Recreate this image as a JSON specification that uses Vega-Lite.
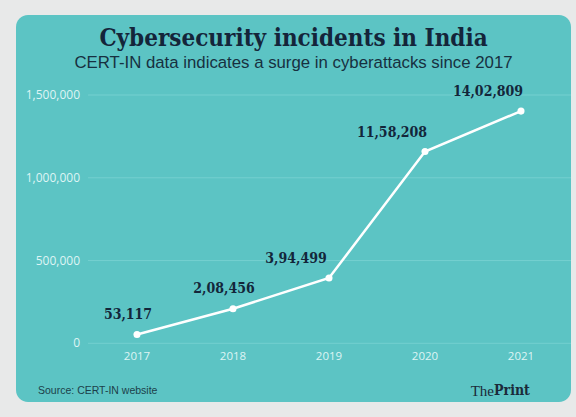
{
  "$schema": "https://vega.github.io/schema/vega-lite/v6.json",
  "width": 555,
  "height": 387,
  "autosize": {"type": "none"},
  "padding": {"left": 16, "top": 15, "right": 5, "bottom": 15},
  "background": "#e8e9e9",
  "config": {"view": {"fill": "#5cc4c4", "stroke": null, "cornerRadius": 12}},
  "title": {
    "text": "Cybersecurity incidents in India",
    "subtitle": "CERT-IN data indicates a surge in cyberattacks since 2017",
    "anchor": "middle",
    "frame": "group",
    "offset": -57,
    "font": "DejaVu Serif Condensed",
    "fontSize": 24,
    "fontWeight": "bold",
    "color": "#14253a",
    "subtitleFont": "Liberation Sans",
    "subtitleFontSize": 16.8,
    "subtitleColor": "#173040",
    "subtitlePadding": 4
  },
  "datasets": {
    "incidents": [
      {"year": 2017, "count": 53117, "label": "53,117", "group": "a"},
      {"year": 2018, "count": 208456, "label": "2,08,456", "group": "a"},
      {"year": 2019, "count": 394499, "label": "3,94,499", "group": "b"},
      {"year": 2020, "count": 1158208, "label": "11,58,208", "group": "b"},
      {"year": 2021, "count": 1402809, "label": "14,02,809", "group": "b"}
    ],
    "ticks": [{"v": 0}, {"v": 500000}, {"v": 1000000}, {"v": 1500000}],
    "footer": [{"source": "Source: CERT-IN website", "brand1": "The", "brand2": "Print"}]
  },
  "layer": [
    {
      "data": {"name": "ticks"},
      "mark": {"type": "rule", "color": "#74d0d0", "strokeWidth": 1},
      "encoding": {
        "y": {"field": "v", "type": "quantitative", "scale": {"domain": [-354600, 1983300], "nice": false, "zero": false}, "axis": null},
        "x": {"datum": 2016.49, "type": "quantitative", "scale": {"domain": [2015.7396, 2021.5208], "nice": false, "zero": false}, "axis": null},
        "x2": {"datum": 2021.5208}
      }
    },
    {
      "data": {"name": "ticks"},
      "mark": {"type": "text", "align": "right", "baseline": "middle", "font": "Open Sans", "fontSize": 12, "color": "#def4f4"},
      "encoding": {
        "y": {"field": "v", "type": "quantitative"},
        "x": {"datum": 2016.4063, "type": "quantitative"},
        "text": {"field": "v", "type": "quantitative", "format": ","}
      }
    },
    {
      "data": {"name": "incidents"},
      "mark": {"type": "text", "align": "center", "baseline": "middle", "font": "Open Sans", "fontSize": 11.5, "color": "#def4f4"},
      "encoding": {
        "x": {"field": "year", "type": "quantitative"},
        "y": {"datum": -82760, "type": "quantitative"},
        "text": {"field": "year", "type": "quantitative", "format": "d"}
      }
    },
    {
      "data": {"name": "incidents"},
      "mark": {"type": "line", "color": "#ffffff", "strokeWidth": 2.5},
      "encoding": {
        "x": {"field": "year", "type": "quantitative"},
        "y": {"field": "count", "type": "quantitative"}
      }
    },
    {
      "data": {"name": "incidents"},
      "mark": {"type": "point", "filled": true, "color": "#ffffff", "opacity": 1, "size": 50},
      "encoding": {
        "x": {"field": "year", "type": "quantitative"},
        "y": {"field": "count", "type": "quantitative"}
      }
    },
    {
      "data": {"name": "incidents"},
      "transform": [{"filter": "datum.group == 'a'"}],
      "mark": {"type": "text", "align": "center", "baseline": "middle", "dx": -9, "dy": -20, "font": "DejaVu Serif Condensed", "fontWeight": "bold", "fontSize": 14, "color": "#13263a"},
      "encoding": {
        "x": {"field": "year", "type": "quantitative"},
        "y": {"field": "count", "type": "quantitative"},
        "text": {"field": "label"}
      }
    },
    {
      "data": {"name": "incidents"},
      "transform": [{"filter": "datum.group == 'b'"}],
      "mark": {"type": "text", "align": "center", "baseline": "middle", "dx": -33, "dy": -19, "font": "DejaVu Serif Condensed", "fontWeight": "bold", "fontSize": 14, "color": "#13263a"},
      "encoding": {
        "x": {"field": "year", "type": "quantitative"},
        "y": {"field": "count", "type": "quantitative"},
        "text": {"field": "label"}
      }
    },
    {
      "data": {"name": "footer"},
      "mark": {"type": "text", "align": "left", "baseline": "middle", "font": "Liberation Sans", "fontSize": 10.5, "color": "#1c3f4a"},
      "encoding": {
        "x": {"datum": 2015.969, "type": "quantitative"},
        "y": {"datum": -288150, "type": "quantitative"},
        "text": {"field": "source"}
      }
    },
    {
      "data": {"name": "footer"},
      "mark": {"type": "text", "align": "right", "baseline": "middle", "font": "Liberation Serif", "fontSize": 15, "color": "#1b2b3a"},
      "encoding": {
        "x": {"datum": 2020.719, "type": "quantitative"},
        "y": {"datum": -288150, "type": "quantitative"},
        "text": {"field": "brand1"}
      }
    },
    {
      "data": {"name": "footer"},
      "mark": {"type": "text", "align": "left", "baseline": "middle", "font": "DejaVu Serif Condensed", "fontWeight": "bold", "fontSize": 14, "color": "#1b2b3a"},
      "encoding": {
        "x": {"datum": 2020.719, "type": "quantitative"},
        "y": {"datum": -288150, "type": "quantitative"},
        "text": {"field": "brand2"}
      }
    }
  ]
}
